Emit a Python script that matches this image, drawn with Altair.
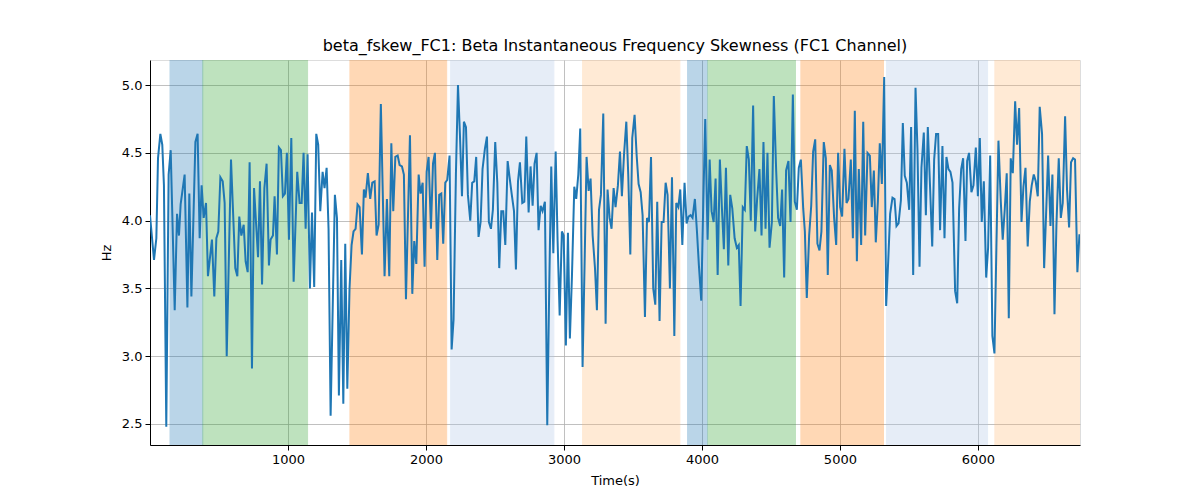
import altair as alt
import pandas as pd

# ---- data ----
time_s = [
    0, 29, 46, 58, 75, 89, 101, 118, 135, 150, 179, 196, 210, 222, 251, 271, 285, 300, 329, 345,
    360, 374, 389, 406, 420, 449, 466, 481, 495, 510, 527, 541, 556, 587, 618, 633, 647, 662, 679, 693,
    708, 722, 739, 754, 783, 797, 812, 829,
    845, 862, 874, 891, 903, 920, 934, 949, 963, 978, 992, 1007, 1024, 1041, 1067, 1084, 1099, 1113, 1128, 1142,
    1159, 1174, 1190, 1205, 1219, 1234, 1251, 1265, 1280, 1294, 1309, 1340, 1355, 1369, 1386, 1401, 1415, 1430, 1446, 1461,
    1475, 1490, 1504, 1519, 1536, 1550, 1562, 1579, 1596, 1611, 1628, 1642, 1657, 1673,
    1700, 1717, 1734, 1749, 1763, 1778, 1795, 1809, 1826, 1840, 1855, 1884, 1901, 1915, 1930, 1947, 1961, 1976, 1990, 2005,
    2019, 2036, 2051, 2065, 2082, 2096, 2111, 2125, 2140, 2154, 2171, 2186, 2200, 2217, 2232, 2246, 2261, 2275, 2290, 2304,
    2321, 2335, 2350, 2364, 2381, 2396, 2410, 2427, 2442, 2456, 2471, 2485, 2502, 2517, 2531,
    2546, 2560, 2575, 2592, 2606, 2621, 2638, 2652, 2667, 2681, 2698, 2713, 2727, 2744, 2758, 2773, 2787, 2802, 2816, 2831,
    2845, 2862, 2879, 2894, 2908, 2923, 2940, 2954, 2969, 2985, 2998, 3014, 3029, 3043, 3058, 3075, 3089, 3104, 3118, 3135,
    3150, 3164, 3179, 3193, 3208, 3225, 3239, 3254, 3268, 3285, 3302, 3316, 3331, 3345, 3360, 3374,
    3391, 3406, 3420, 3435, 3452, 3466, 3481, 3495, 3512, 3527, 3541, 3556, 3570, 3587, 3602, 3616, 3631, 3647, 3662, 3676,
    3693, 3708, 3722, 3737, 3751, 3768, 3783, 3800, 3814, 3829, 3843, 3858, 3874, 3889, 3903, 3918, 3932, 3949, 3964, 3978,
    3995, 4010, 4024, 4041, 4056, 4070, 4085, 4099, 4114, 4130, 4145, 4159, 4174, 4191, 4205, 4220, 4237,
    4253, 4267, 4280, 4296, 4311, 4325, 4340, 4354, 4371, 4386, 4400, 4417, 4432, 4446, 4461, 4475, 4490, 4507, 4521, 4538,
    4552, 4567, 4581, 4596, 4610, 4627, 4642, 4659, 4673, 4688, 4702, 4717, 4734, 4746, 4760, 4777, 4792, 4806, 4821, 4837,
    4852, 4866, 4883, 4898, 4912, 4927, 4941, 4958, 4973, 4987, 5002, 5016, 5033, 5048, 5062, 5079, 5094,
    5108, 5123, 5137, 5154, 5169, 5183, 5200, 5217, 5231, 5246, 5260, 5275, 5289, 5304, 5321, 5335, 5350, 5364, 5381, 5396,
    5410, 5425, 5442, 5456, 5470, 5485, 5502, 5516, 5531, 5548, 5562, 5577, 5591, 5608, 5623, 5637, 5654, 5669, 5683, 5697,
    5712, 5726, 5743, 5758, 5772, 5787, 5801, 5816, 5835, 5850, 5864, 5879, 5893, 5910,
    5922, 5936, 5953, 5968, 5985, 6000, 6014, 6028, 6043, 6060, 6074, 6089, 6105, 6120, 6134, 6149, 6166, 6180, 6195, 6209,
    6224, 6238, 6253, 6270, 6284, 6299, 6316, 6330, 6345, 6361, 6376, 6390, 6405, 6419, 6434, 6448, 6465, 6480, 6494, 6509,
    6526, 6540, 6555, 6569, 6586, 6601, 6615, 6632, 6646, 6661, 6675, 6690, 6704, 6721, 6736,
]

skew_hz = [
    4.04, 3.71, 3.87, 4.46, 4.64, 4.56, 4.26, 2.48, 4.34, 4.52, 3.34, 4.05, 3.89, 4.12, 4.34, 3.36, 4.20, 3.44, 4.58, 4.64,
    3.87, 4.26, 4.02, 4.13, 3.59, 3.86, 3.44, 3.87, 3.92, 4.32, 4.29, 4.13, 3.00, 4.45, 3.65, 3.59, 4.03, 3.89, 3.97, 3.70,
    3.62, 4.43, 2.91, 4.24, 3.73, 4.29, 3.53, 4.24,
    4.42, 3.67, 3.86, 3.89, 4.18, 3.75, 4.54, 4.52, 4.18, 4.20, 4.50, 3.86, 4.61, 3.55, 4.36, 4.13, 4.13, 4.50, 3.94, 4.49,
    3.50, 4.06, 3.51, 4.64, 4.56, 4.07, 4.36, 4.24, 4.39, 3.94, 2.56, 4.19, 4.02, 2.71, 3.71, 2.65, 3.83, 2.76, 3.50, 3.82,
    3.92, 3.94, 4.12, 4.10, 3.75, 4.23, 4.17, 4.35, 4.16, 4.28, 4.29, 3.89, 3.97, 4.86,
    3.59, 4.16, 3.59, 4.57, 4.07, 4.47, 4.48, 4.41, 4.40, 4.34, 3.42, 4.63, 3.46, 3.85, 3.68, 4.34, 4.20, 4.28, 3.66, 4.36,
    4.47, 3.94, 4.42, 4.50, 3.71, 4.19, 4.20, 3.83, 4.28, 4.30, 4.48, 3.05, 3.27, 4.34, 5.00, 4.64, 4.18, 4.73, 4.69, 4.19,
    4.00, 4.28, 4.29, 4.47, 3.88, 3.99, 4.38, 4.53, 4.62, 3.99, 3.94, 4.08, 4.58, 4.28, 3.65,
    4.07, 4.07, 3.82, 4.44, 4.32, 4.20, 4.07, 3.64, 4.29, 4.43, 4.13, 4.14, 4.62, 4.06, 4.40, 4.11, 4.42, 4.50, 3.93, 4.11,
    4.07, 4.14, 2.49, 3.55, 4.40, 3.76, 4.51, 3.85, 3.30, 3.92, 3.89, 3.08, 3.91, 3.13, 3.59, 4.25, 4.16, 4.34, 4.68, 2.92,
    3.70, 4.47, 4.22, 4.31, 3.89, 3.65, 3.34, 4.08, 4.19, 4.79, 3.24, 4.23, 4.02, 3.94, 4.24, 4.10,
    4.26, 4.51, 4.18, 4.48, 4.73, 4.34, 3.75, 4.61, 4.78, 4.48, 4.27, 4.21, 4.04, 3.29, 4.02, 3.99, 4.47, 3.50, 3.38, 4.14,
    3.26, 3.99, 3.99, 4.28, 4.19, 3.50, 4.32, 3.15, 4.13, 4.10, 4.23, 3.82, 4.28, 3.98, 4.03, 4.04, 4.02, 4.16, 3.92, 3.67,
    3.41, 4.14, 4.75, 3.86, 4.45, 4.07, 3.99, 4.31, 3.60, 4.45, 4.09, 3.79, 4.39, 3.67, 4.19, 4.09, 3.87,
    3.80, 3.82, 3.37, 4.10, 4.08, 4.55, 4.45, 4.00, 4.85, 3.92, 4.16, 4.38, 3.89, 4.58, 3.94, 4.50, 3.80, 3.99, 4.92, 4.37,
    4.02, 3.96, 4.23, 3.58, 4.37, 4.44, 3.99, 4.93, 4.14, 4.08, 4.39, 4.45, 4.09, 3.92, 3.43, 3.89, 4.11, 4.51, 4.60, 3.83,
    3.78, 3.92, 4.58, 4.46, 3.60, 4.41, 4.37, 4.02, 3.82, 4.50, 4.10, 4.03, 4.53, 4.13, 4.16, 4.45, 3.87,
    4.81, 3.70, 4.38, 3.82, 4.73, 3.89, 4.50, 4.48, 4.10, 4.37, 3.84, 4.14, 4.57, 4.27, 5.06, 3.37, 3.70, 4.05, 4.17, 4.16,
    3.96, 3.98, 4.15, 4.72, 4.33, 4.28, 4.08, 4.69, 3.60, 4.98, 4.53, 3.66, 4.39, 4.65, 4.04, 4.69, 4.23, 3.81, 4.45, 4.64,
    4.64, 3.93, 4.55, 3.87, 4.47, 4.38, 4.36, 4.28, 3.48, 3.39, 4.09, 4.38, 4.46, 3.85,
    4.44, 4.50, 4.21, 4.26, 4.54, 4.18, 4.61, 3.99, 4.29, 3.58, 3.80, 4.48, 3.15, 3.02, 3.80, 4.59, 4.14, 3.86, 4.09, 4.35,
    3.28, 4.46, 4.35, 4.88, 4.56, 4.83, 3.99, 4.25, 4.39, 3.81, 4.14, 4.26, 4.34, 4.29, 4.18, 4.84, 4.64, 3.65, 4.04, 4.48,
    3.96, 4.34, 3.31, 3.96, 4.46, 4.02, 4.13, 4.77, 4.23, 3.95, 4.43, 4.46, 4.45, 3.62, 3.90,
]

span_start = [145, 383, 1449, 2179, 3135, 3896, 4043, 4717, 5338, 6123]
span_end = [382, 1142, 2150, 2927, 3840, 4039, 4678, 5316, 6070, 6800]
span_kind = ["a", "b", "c", "d", "e", "a", "b", "c", "d", "e"]

kind_domain = ["a", "b", "c", "d", "e"]
kind_colors = ["#1f77b4", "#2ca02c", "#ff7f0e", "#aec7e8", "#ffbb78"]

x_ticks = [1000, 2000, 3000, 4000, 5000, 6000]
y_ticks = [2.5, 3.0, 3.5, 4.0, 4.5, 5.0]

title_text = "beta_fskew_FC1: Beta Instantaneous Frequency Skewness (FC1 Channel)"

# ---- build ----
line_df = pd.DataFrame({"t": time_s, "v": skew_hz})
span_df = pd.DataFrame({"start": span_start, "end": span_end, "kind": span_kind})

FONT = "DejaVu Sans"
x_scale = alt.Scale(domain=[0, 6740], nice=False, zero=False)
y_scale = alt.Scale(domain=[2.345, 5.185], nice=False, zero=False)

x_axis = alt.Axis(values=x_ticks, format="d", title="Time(s)", grid=True,
                  gridColor="#b0b0b0", gridWidth=0.8, tickSize=5, tickColor="black",
                  domainColor="black", labelColor="black", labelFontSize=13,
                  labelPadding=3, titleFontSize=13, titleFontWeight="normal",
                  titleColor="black", titlePadding=8, labelFont=FONT, titleFont=FONT)
y_axis = alt.Axis(values=y_ticks, format=".1f", title="Hz", grid=True,
                  gridColor="#b0b0b0", gridWidth=0.8, tickSize=5, tickColor="black",
                  domainColor="black", labelColor="black", labelFontSize=13,
                  labelPadding=3, titleFontSize=13, titleFontWeight="normal",
                  titleColor="black", titlePadding=8, labelFont=FONT, titleFont=FONT)

color_scale = alt.Scale(domain=kind_domain, range=kind_colors)

spans = alt.Chart(span_df).mark_rect(opacity=0.3, clip=True, strokeWidth=1).encode(
    x=alt.X("start:Q", scale=x_scale, axis=x_axis),
    x2="end:Q",
    color=alt.Color("kind:N", scale=color_scale, legend=None),
    stroke=alt.Stroke("kind:N", scale=color_scale, legend=None),
)

line = alt.Chart(line_df).mark_line(color="#1f77b4", strokeWidth=2, clip=True).encode(
    x=alt.X("t:Q", scale=x_scale, axis=x_axis),
    y=alt.Y("v:Q", scale=y_scale, axis=y_axis),
)

chart = alt.layer(spans, line).properties(
    width=930,
    height=385,
    title=alt.TitleParams(title_text, fontSize=16, fontWeight="normal", font=FONT,
                          color="black", anchor="middle", offset=6),
    padding={"left": 142, "top": 52, "right": 112, "bottom": 47},
    autosize=alt.AutoSizeParams(type="none"),
).configure_view(stroke="black", strokeWidth=1).configure(background="white")

chart.save("out.html", embed_options={"renderer": "svg", "actions": False})
